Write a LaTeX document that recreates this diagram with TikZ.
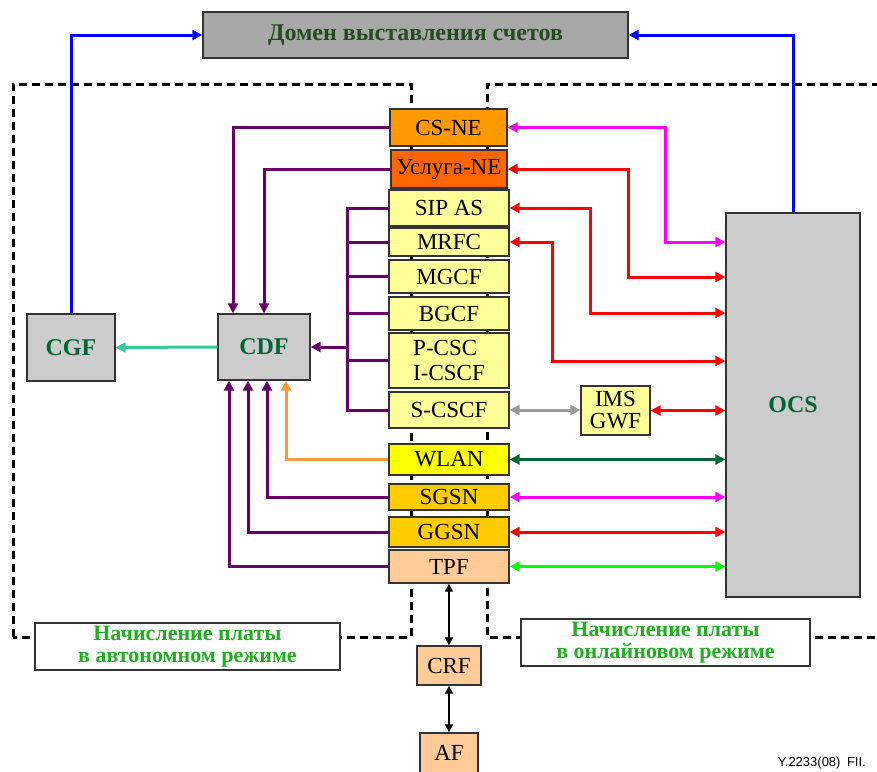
\documentclass[tikz,border=0pt]{standalone}
\usepackage{fontspec}
\setmainfont{Liberation Serif}
\newfontfamily\lsans{Liberation Sans}
\usetikzlibrary{arrows.meta}
\definecolor{bord}{HTML}{333333}
\definecolor{titlegray}{HTML}{A8A8A8}
\definecolor{boxgray}{HTML}{CCCCCC}
\definecolor{titlegreen}{HTML}{234D1C}
\definecolor{dgreen}{HTML}{006633}
\definecolor{lgreen}{HTML}{1FAF1F}
\definecolor{pur}{HTML}{660066}
\definecolor{mag}{HTML}{FF00FF}
\definecolor{rd}{HTML}{FF0000}
\definecolor{gry}{HTML}{999999}
\definecolor{grn}{HTML}{00FF00}
\definecolor{orng}{HTML}{FF9933}
\definecolor{teal2}{HTML}{33CC99}
\definecolor{blu}{HTML}{0000FF}
\definecolor{csne}{HTML}{FF9900}
\definecolor{sne}{HTML}{FF6600}
\definecolor{lyel}{HTML}{FFFF99}
\definecolor{yel}{HTML}{FFFF00}
\definecolor{gold}{HTML}{FFCC00}
\definecolor{peach}{HTML}{FFCC99}
\begin{document}
\begin{tikzpicture}[x=1pt,y=-1pt,
  box/.style={draw=bord, line width=1.3pt, inner sep=0pt, align=center,
    font=\fontsize{23}{24}\selectfont},
  graybox/.style={box, fill=boxgray, text=dgreen, font=\bfseries\fontsize{24}{24}\selectfont},
  lbl/.style={draw=bord, fill=white, line width=1.3pt, inner sep=0pt, align=center,
    text=lgreen, font=\bfseries\fontsize{22}{22}\selectfont},
  ln/.style={line width=3pt},
  dsh/.style={line width=3pt, dash pattern=on 8pt off 5pt},
  >={Triangle[length=10pt,width=10pt]},
  thin2/.style={line width=1.1pt, >={Triangle[length=8pt,width=8pt]}}
]
\useasboundingbox (0,0) rectangle (877,771);

% dashed domains
\draw[dsh] (13,637) -- (13,84) -- (411,84) -- (411,637) -- cycle;
\draw[dsh] (880,84) -- (487,84) -- (487,637) -- (880,637);

% nodes
\node[box, fill=titlegray, minimum width=425pt, minimum height=46pt, text=titlegreen,
  font=\bfseries\fontsize{24}{24}\selectfont] (bill) at (415.5,35) {Домен выставления счетов};

\node[box, fill=csne, minimum width=117pt, minimum height=37pt] (CSNE) at (448.5,127.5) {CS-NE};
\node[box, fill=sne, minimum width=116pt, minimum height=38pt] (SNE) at (449,169) {Услуга-NE};
\node[box, fill=lyel, minimum width=120pt, minimum height=36pt] (SIPAS) at (449,208) {SIP AS};
\node[box, fill=lyel, minimum width=120pt, minimum height=28pt] (MRFC) at (449,242) {MRFC};
\node[box, fill=lyel, minimum width=120pt, minimum height=33pt] (MGCF) at (449,276.5) {MGCF};
\node[box, fill=lyel, minimum width=120pt, minimum height=33pt] (BGCF) at (449,313.5) {BGCF};
\node[box, fill=lyel, minimum width=120pt, minimum height=55pt, align=left,
  font=\fontsize{23}{25}\selectfont] (PCSCF) at (449,360.5) {P-CSC\\I-CSCF};
\node[box, fill=lyel, minimum width=120pt, minimum height=36pt] (SCSCF) at (449,410) {S-CSCF};
\node[box, fill=yel, minimum width=120pt, minimum height=31pt] (WLAN) at (449,459.5) {WLAN};
\node[box, fill=gold, minimum width=120pt, minimum height=26pt] (SGSN) at (449,497) {SGSN};
\node[box, fill=gold, minimum width=120pt, minimum height=30pt] (GGSN) at (449,532) {GGSN};
\node[box, fill=peach, minimum width=120pt, minimum height=33pt] (TPF) at (449,566.5) {TPF};

\node[graybox, minimum width=92pt, minimum height=66pt] (CDF) at (264,347) {CDF};
\node[graybox, minimum width=88pt, minimum height=67pt] (CGF) at (71,347.5) {CGF};
\node[graybox, minimum width=134pt, minimum height=384pt] (OCS) at (793,405) {};
\node[text=dgreen, font=\bfseries\fontsize{24}{24}\selectfont] (OCSt) at (793,405) {OCS};
\node[box, fill=lyel, minimum width=69pt, minimum height=49pt,
  font=\fontsize{23}{22}\selectfont] (GWF) at (615.5,410.5) {IMS\\GWF};

\node[box, fill=peach, minimum width=64pt, minimum height=39pt] (CRF) at (449,665.5) {CRF};
\node[box, fill=peach, minimum width=58pt, minimum height=40pt] (AF) at (449,753) {AF};

\node[lbl, minimum width=305pt, minimum height=47pt] (offl) at (187.5,646.5) {Начисление платы\\в автономном режиме};
\node[lbl, minimum width=289pt, minimum height=47pt] (onl) at (665.5,642.5) {Начисление платы\\в онлайновом режиме};

\node[font=\lsans\fontsize{13}{13}\selectfont, anchor=east, inner sep=0pt] (fig) at (866,763) {Y.2233(08)\enspace FII.};

% blue to billing domain
\coordinate (bl) at (71,35);
\coordinate (br) at (793,35);
\draw[ln, blu, ->] (CGF.north) -- (bl) -- (bill.west);
\draw[ln, blu, ->] (OCS.north) -- (br) -- (bill.east);

% CDF -> CGF
\draw[ln, teal2, ->] (CDF.west) -- (CGF.east);

% purple from top
\draw[ln, pur, ->] (CSNE.west) -| ([xshift=-31pt]CDF.north);
\draw[ln, pur, ->] (SNE.west) -| (CDF.north);

% bus
\coordinate (bus) at (347,347);
\draw[ln, pur] (SIPAS.west) -| (bus |- SCSCF.west) -- (SCSCF.west);
\draw[ln, pur] (MRFC.west) -- (MRFC.west -| bus);
\draw[ln, pur] (MGCF.west) -- (MGCF.west -| bus);
\draw[ln, pur] (BGCF.west) -- (BGCF.west -| bus);
\draw[ln, pur] (PCSCF.west) -- (PCSCF.west -| bus);
\draw[ln, pur, ->] (bus) -- (CDF.east);

% from bottom
\draw[ln, orng, ->] (WLAN.west) -| ([xshift=22pt]CDF.south);
\draw[ln, pur, ->] (SGSN.west) -| ([xshift=3pt]CDF.south);
\draw[ln, pur, ->] (GGSN.west) -| ([xshift=-16pt]CDF.south);
\draw[ln, pur, ->] (TPF.west) -| ([xshift=-35pt]CDF.south);

% right side to OCS
\coordinate (m1) at (665,242);
\coordinate (r1) at (628,277);
\coordinate (r2) at (590,313);
\coordinate (r3) at (552,361);
\draw[ln, mag, <->] (CSNE.east) -| (m1) -- (m1 -| OCS.west);
\draw[ln, rd, <->] (SNE.east) -| (r1) -- (r1 -| OCS.west);
\draw[ln, rd, <->] (SIPAS.east) -| (r2) -- (r2 -| OCS.west);
\draw[ln, rd, <->] (MRFC.east) -| (r3) -- (r3 -| OCS.west);
\draw[ln, gry, <->] (SCSCF.east) -- (SCSCF.east -| GWF.west);
\draw[ln, rd, <->] (GWF.east) -- (GWF.east -| OCS.west);
\draw[ln, dgreen, <->] (WLAN.east) -- (WLAN.east -| OCS.west);
\draw[ln, mag, <->] (SGSN.east) -- (SGSN.east -| OCS.west);
\draw[ln, rd, <->] (GGSN.east) -- (GGSN.east -| OCS.west);
\draw[ln, grn, <->] (TPF.east) -- (TPF.east -| OCS.west);

% TPF - CRF - AF
\draw[thin2, <->] (TPF.south) -- (CRF.north);
\draw[thin2, <->] (CRF.south) -- (AF.north);
\end{tikzpicture}
\end{document}
